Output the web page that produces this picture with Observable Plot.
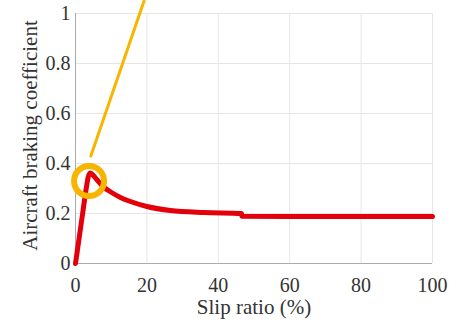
<!DOCTYPE html>
<html><head><meta charset="utf-8">
<script src="https://cdn.jsdelivr.net/npm/d3@7"></script>
<script src="https://cdn.jsdelivr.net/npm/@observablehq/plot@0.6"></script>
<style>body{margin:0;background:#fff}</style>
</head><body><div id="chart"></div>
<script>
const xTicks = [0, 20, 40, 60, 80, 100];
const yTicks = [0, 0.2, 0.4, 0.6, 0.8, 1];
const slip = [0, 1, 2, 3, 3.6, 4.2, 5, 6, 8, 10, 12.6, 15, 20, 26.6, 36, 46.5, 46.6, 60, 80, 100];
const braking = [0, 0.1, 0.2, 0.3, 0.348, 0.362, 0.352, 0.335, 0.304, 0.285, 0.264, 0.25, 0.228, 0.212, 0.204, 0.2, 0.189, 0.188, 0.188, 0.188];
const tangentX = [4.3, 19.2];
const tangentY = [0.43, 1.05];
const markerX = [3.8];
const markerY = [0.33];
const xLabel = "Slip ratio (%)";
const yLabel = "Aircraft braking coefficient";

const curve = slip.map((x, i) => ({x, y: braking[i]}));
const tangent = tangentX.map((x, i) => ({x, y: tangentY[i]}));
const marker = markerX.map((x, i) => ({x, y: markerY[i]}));

const chart = Plot.plot({
  width: 461, height: 326,
  marginLeft: 75, marginRight: 29, marginTop: 13, marginBottom: 63,
  style: {fontFamily: "'Liberation Serif', serif", fontSize: "20px", background: "white", color: "#333"},
  x: {domain: [0, 100], ticks: xTicks, tickSize: 0, tickPadding: 14, label: null},
  y: {domain: [0, 1], ticks: yTicks, tickSize: 0, tickPadding: 5, label: null, tickFormat: d => String(d)},
  marks: [
    Plot.gridX(xTicks, {stroke: "#e6e6e6", strokeOpacity: 1}),
    Plot.gridY(yTicks, {stroke: "#e6e6e6", strokeOpacity: 1}),
    Plot.ruleX([0], {stroke: "#aaa"}),
    Plot.ruleY([0], {stroke: "#aaa"}),
    Plot.line(tangent, {x: "x", y: "y", stroke: "#f7b500", strokeWidth: 3}),
    Plot.line(curve, {x: "x", y: "y", stroke: "#e3000b", strokeWidth: 5, curve: "monotone-x"}),
    Plot.dot(marker, {x: "x", y: "y", r: 15, stroke: "#f7b500", strokeWidth: 6, fill: "none"}),
    Plot.text([xLabel], {frameAnchor: "bottom", lineAnchor: "middle", dy: 44, fontSize: 21, fill: "#333"}),
    Plot.text([yLabel], {frameAnchor: "left", textAnchor: "middle", lineAnchor: "middle", dx: -45, dy: -3, rotate: -90, fontSize: 21, fill: "#333"})
  ]
});
document.getElementById("chart").append(chart);
</script></body></html>
